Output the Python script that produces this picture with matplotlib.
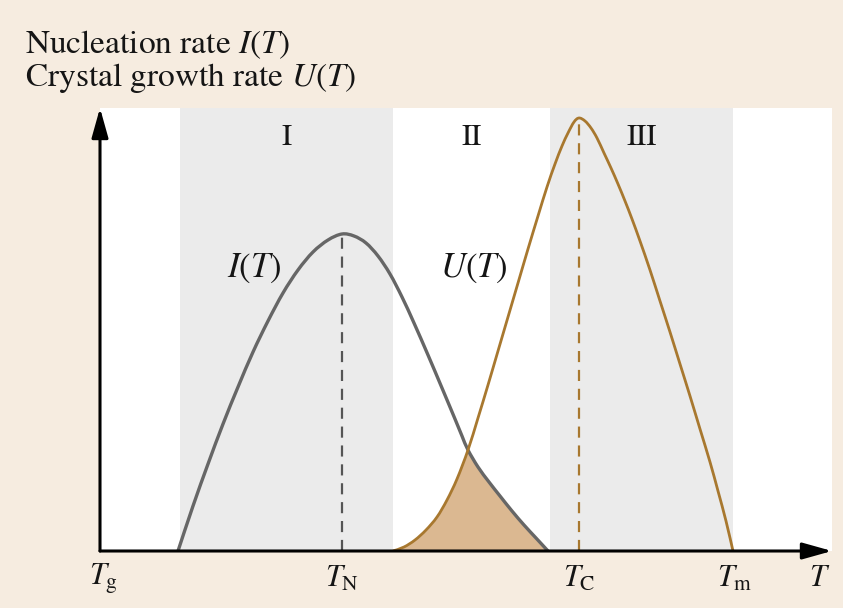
import numpy as np
import matplotlib
matplotlib.use("Agg")
import matplotlib.pyplot as plt
from matplotlib.path import Path
from matplotlib.patches import PathPatch

plt.rcParams['font.family'] = 'STIXGeneral'
plt.rcParams['mathtext.fontset'] = 'stix'

# Nucleation rate I(T), arbitrary units
I_T = [78, 93, 108, 123, 138, 153, 168, 183, 198, 213, 228, 242,
       254, 266, 278, 290, 302, 314, 328, 342, 355, 362, 368, 378, 389,
       400, 412, 424, 436, 448]
I_rate = [0, 45, 87, 127, 164, 199, 230, 258, 281, 299, 311, 317,
          315, 308, 295, 277, 254, 228, 196, 163, 132, 115, 101, 84, 69,
          55, 40, 26, 13, 0]

# Crystal growth rate U(T), arbitrary units
U_T = [293, 304, 315, 326, 337, 347, 357, 368, 378, 388, 398, 408, 418, 428,
       438, 447, 455, 462, 468, 474, 479, 485, 491, 497, 504, 511, 518, 525,
       532, 540, 550, 560, 570, 580, 590, 600, 610, 618, 626, 633]
U_rate = [0, 4, 11, 21, 34, 51, 72, 101, 133, 166, 200, 234, 268, 302,
          335, 364, 387, 405, 418, 429, 433, 430, 423, 413, 398, 383, 367, 350,
          332, 310, 281, 250, 219, 187, 155, 122, 89, 60, 30, 0]

# characteristic temperatures
T_g, T_N, T_C, T_m = 0, 242, 479, 633
T_cross = 368
T_end, rate_top = 732, 443

# temperature ranges I, II, III
regions = [("I", 80, 293), ("II", 293, 450), ("III", 450, 633)]
region_shaded = [True, False, True]

beige = "#f6ece0"
band_gray = "#ebebeb"
i_color = "#666666"
u_color = "#a8782f"
fill_color = "#dbb891"
ink = "#151515"


def smooth_segments(x, y):
    # Catmull-Rom curve through the points, as cubic Bezier pieces
    pts = np.column_stack([x, y]).astype(float)
    verts, codes = [pts[0]], [Path.MOVETO]
    n = len(pts)
    for i in range(n - 1):
        p0 = pts[i - 1] if i > 0 else pts[i]
        p1, p2 = pts[i], pts[i + 1]
        p3 = pts[i + 2] if i + 2 < n else pts[i + 1]
        verts += [p1 + (p2 - p0) / 6, p2 - (p3 - p1) / 6, p2]
        codes += [Path.CURVE4] * 3
    return verts, codes


fig = plt.figure(figsize=(8.43, 6.08), dpi=100, facecolor=beige)
ax = fig.add_axes([100 / 843, 57 / 608, 732 / 843, 443 / 608])
ax.set_facecolor("white")
ax.set_xlim(0, T_end)
ax.set_ylim(0, rate_top)
for s in ax.spines.values():
    s.set_visible(False)
ax.set_xticks([])
ax.set_yticks([])

# shaded bands and region numerals
for (name, a, b), shaded in zip(regions, region_shaded):
    if shaded:
        ax.axvspan(a, b, color=band_gray, lw=0, zorder=0)
    ax.text((a + b) / 2, 0.932, name, transform=ax.get_xaxis_transform(),
            ha="center", va="center", fontsize=22, color=ink)

# overlap of the two curves, below both
U_T_arr, U_r_arr = np.array(U_T), np.array(U_rate)
I_T_arr, I_r_arr = np.array(I_T), np.array(I_rate)
left = U_T_arr <= T_cross
right = I_T_arr >= T_cross
v1, c1 = smooth_segments(U_T_arr[left], U_r_arr[left])
v2, c2 = smooth_segments(I_T_arr[right], I_r_arr[right])
c2[0] = Path.LINETO
fill_path = Path(v1 + v2 + [v1[0]], c1 + c2 + [Path.CLOSEPOLY])
ax.add_patch(PathPatch(fill_path, facecolor=fill_color, lw=0, zorder=1))

# curves
for xs, ys, col, lw in [(I_T, I_rate, i_color, 2.4), (U_T, U_rate, u_color, 2.0)]:
    v, c = smooth_segments(xs, ys)
    ax.add_patch(PathPatch(Path(v, c), facecolor="none", edgecolor=col,
                           lw=lw, capstyle="butt", zorder=3))

# dashed markers at the maxima
ax.plot([T_N, T_N], [0, max(I_rate)], color="#555555", lw=1.6,
        dashes=(5, 3.5), zorder=2)
ax.plot([T_C, T_C], [0, max(U_rate)], color=u_color, lw=1.6,
        dashes=(5, 3.5), zorder=2)

ax.text(154, 283, r"$I(T)$", fontsize=25, color=ink, ha="center", va="center")
ax.text(374, 283, r"$U(T)$", fontsize=25, color=ink, ha="center", va="center")

# axes with arrow heads
arrow = dict(arrowstyle="-|>,head_length=1.0,head_width=0.28", lw=2.2,
             color="black", shrinkA=0, shrinkB=0, mutation_scale=18)
ax.annotate("", xy=(T_end, 0), xytext=(0, 0), arrowprops=arrow,
            annotation_clip=False, zorder=5)
ax.annotate("", xy=(0, rate_top), xytext=(0, 0), arrowprops=arrow,
            annotation_clip=False, zorder=5)

# temperature labels
labels = [(T_g + 4, r"$T_{\rm g}$"), (T_N, r"$T_{\rm N}$"),
          (T_C, r"$T_{\rm C}$"), (T_m + 2, r"$T_{\rm m}$"), (720, r"$T$")]
for x, s in labels:
    ax.text(x, -0.063, s, transform=ax.get_xaxis_transform(), ha="center",
            va="center", fontsize=22, color=ink, clip_on=False)

fig.text(25 / 843, 1 - 45 / 608, r"Nucleation rate $I(T)$", fontsize=24,
         color=ink, ha="left", va="center")
fig.text(25 / 843, 1 - 78 / 608, r"Crystal growth rate $U(T)$", fontsize=24,
         color=ink, ha="left", va="center")

fig.savefig("out.png", dpi=100, facecolor=beige)
